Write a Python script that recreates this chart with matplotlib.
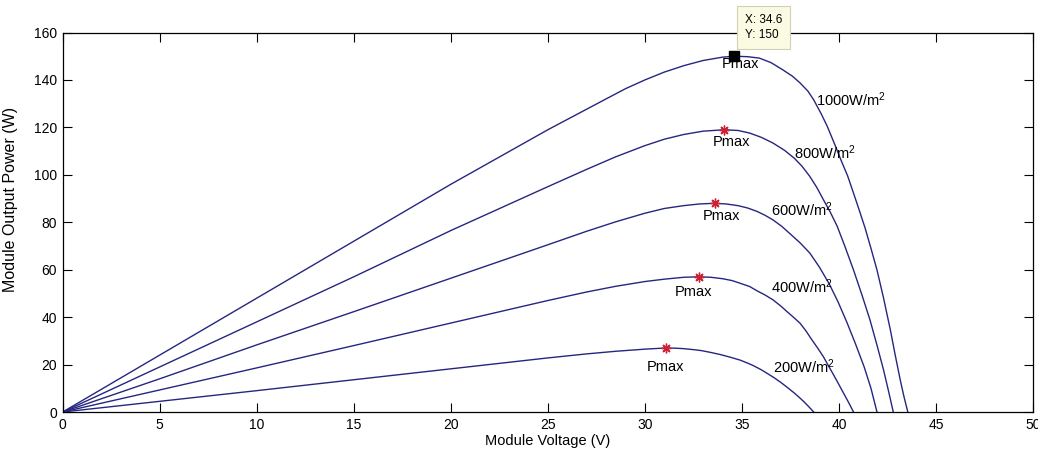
import numpy as np
import matplotlib.pyplot as plt

plt.rcParams['font.family'] = ['Liberation Sans', 'DejaVu Sans']
plt.rcParams['mathtext.fontset'] = 'custom'
plt.rcParams['mathtext.rm'] = 'Liberation Sans'
plt.rcParams['mathtext.it'] = 'Liberation Sans'

# P-V curves (voltage in V, power in W)
v_1000 = [0, 5, 10, 15, 20, 25, 26.5, 28, 29, 30, 31, 32, 33, 34, 34.6, 35.3, 35.9, 36.5, 37.1, 37.6,
          38.0, 38.4, 38.7, 39.1, 39.4, 39.8, 40.1, 40.45, 40.75, 41.05, 41.35, 41.65, 41.96, 42.3,
          42.65, 42.9, 43.16, 43.35, 43.55]
p_1000 = [0, 24, 48, 72, 96, 119, 125.5, 132, 136.3, 140, 143.3, 146, 148.2, 149.6, 150, 149.8, 149.2,
          147.3, 144.3, 141.6, 138.7, 135.3, 131.6, 125.5, 120.4, 112.5, 106.3, 99.5, 92.3, 85, 77.5,
          69, 59.9, 48, 34.6, 24, 13.5, 6.5, 0]

v_800 = [0, 5, 10, 15, 20, 25, 27, 28.5, 30, 31, 32, 33, 34.1, 34.8, 35.4, 36.0, 36.6, 37.2, 37.7,
         38.1, 38.5, 38.85, 39.2, 39.55, 39.9, 40.3, 40.75, 41.2, 41.6, 41.95, 42.3, 42.55, 42.8]
p_800 = [0, 19, 38, 57, 76.5, 95, 102.3, 107.6, 112.3, 115, 117, 118.4, 119, 118.7, 117.6, 115.8, 113.4,
         110.3, 107, 103.6, 99.3, 94.8, 89.5, 84.3, 78.5, 70, 59.9, 49, 38.8, 28.5, 17.7, 9, 0]

v_600 = [0, 5, 10, 15, 20, 25, 27, 28.5, 30, 31, 32, 32.8, 33.6, 34.2, 34.8, 35.3, 35.8, 36.2, 36.6,
         37.05, 37.5, 38.0, 38.5, 39.0, 39.5, 39.95, 40.4, 40.85, 41.3, 41.65, 41.96]
p_600 = [0, 14, 28.3, 42.3, 56.4, 70.5, 76.2, 80.2, 83.8, 85.8, 87, 87.7, 88, 87.7, 87, 86, 84.5, 82.9,
         81, 78.3, 75, 71.3, 67, 61, 54, 46.5, 38, 28.8, 19, 10, 0]

v_400 = [0, 5, 10, 15, 20, 25, 27, 28.5, 30, 31, 32, 32.8, 33.4, 34.0, 34.5, 34.9, 35.4, 35.8, 36.2,
         36.6, 37.0, 37.3, 37.65, 38.0, 38.3, 38.6, 38.9, 39.2, 39.45, 39.7, 39.95, 40.2, 40.5, 40.75]
p_400 = [0, 9.3, 18.6, 28, 37.5, 47, 50.6, 53, 55, 56, 56.8, 57, 56.8, 56.2, 55.4, 54.3, 52.9, 51,
         49.3, 47.3, 44.7, 42.5, 40, 37.4, 34.2, 30.5, 27, 23.3, 19.6, 16, 12.3, 8.5, 4, 0]

v_200 = [0, 5, 10, 15, 20, 25, 27, 28.5, 30, 31.1, 31.6, 32.0, 32.5, 32.9, 33.4, 33.9, 34.4, 34.9,
         35.3, 35.6, 36.0, 36.3, 36.65, 37.0, 37.35, 37.7, 37.95, 38.2, 38.45, 38.7]
p_200 = [0, 4.5, 9, 13.6, 18.2, 22.8, 24.5, 25.6, 26.5, 27, 26.9, 26.7, 26.3, 25.9, 25.1, 24.2, 23.1,
         21.9, 20.6, 19.5, 17.8, 16.3, 14.5, 12.5, 10.3, 8, 6.2, 4.3, 2.2, 0]

irradiance = ['1000', '800', '600', '400', '200']
pmax_v = [34.6, 34.1, 33.6, 32.8, 31.1]
pmax_p = [150, 119, 88, 57, 27]

curves = [(v_1000, p_1000), (v_800, p_800), (v_600, p_600), (v_400, p_400), (v_200, p_200)]

fig = plt.figure(figsize=(10.38, 4.57), dpi=100)
ax = fig.add_axes([62.7 / 1038, 45 / 457, 970.3 / 1038, 379.5 / 457])

line_color = '#262680'
for v, p in curves:
    ax.plot(v, p, color=line_color, lw=1.0)

# red asterisks at the maximum power points (first one is the data tip square)
ax.plot(pmax_v[1:], pmax_p[1:], ls='none', marker=(8, 2, 0), ms=7, mec='#cc2233', mew=1.0)
ax.plot(pmax_v[0], pmax_p[0], ls='none', marker='s', ms=7, color='black', zorder=5)

# "Pmax" labels (left edge, vertical centre)
pmax_text_pos = [(33.97, 146.8), (33.5, 113.9), (33.0, 82.7), (31.56, 50.6), (30.1, 19.0)]
for tx, ty in pmax_text_pos:
    ax.text(tx, ty, 'Pmax', fontsize=10.5, ha='left', va='center')

# irradiance labels
irr_text_pos = [(38.8, 131.6), (37.7, 109.2), (36.5, 85.3), (36.5, 52.9), (36.6, 19.1)]
for lab, (tx, ty) in zip(irradiance, irr_text_pos):
    ax.text(tx, ty, lab + r'W/m$^{2}$', fontsize=10.5, ha='left', va='center')

# data tip
ax.annotate('X: 34.6\nY: 150', xy=(pmax_v[0], pmax_p[0]), xytext=(11, 15),
            textcoords='offset pixels', fontsize=8.5, ha='left', va='bottom',
            linespacing=1.4, annotation_clip=False, zorder=6,
            bbox=dict(boxstyle='square,pad=0.65', fc='#fbfbe4', ec='#d0d0b8', lw=0.8))

ax.set_xlim(0, 50)
ax.set_ylim(0, 160)
ax.set_xticks(np.arange(0, 51, 5))
ax.set_yticks(np.arange(0, 161, 20))
ax.tick_params(direction='in', top=True, right=True, length=6.5, width=0.8,
               labelsize=10, pad=4, colors='black')
for s in ax.spines.values():
    s.set_linewidth(0.9)

ax.set_xlabel('Module Voltage (V)', fontsize=10.5, labelpad=2)
ax.set_ylabel('Module Output Power (W)', fontsize=11.5, labelpad=4)
ax.yaxis.set_label_coords(-0.046, 0.56)

fig.savefig('out.png', dpi=100)
